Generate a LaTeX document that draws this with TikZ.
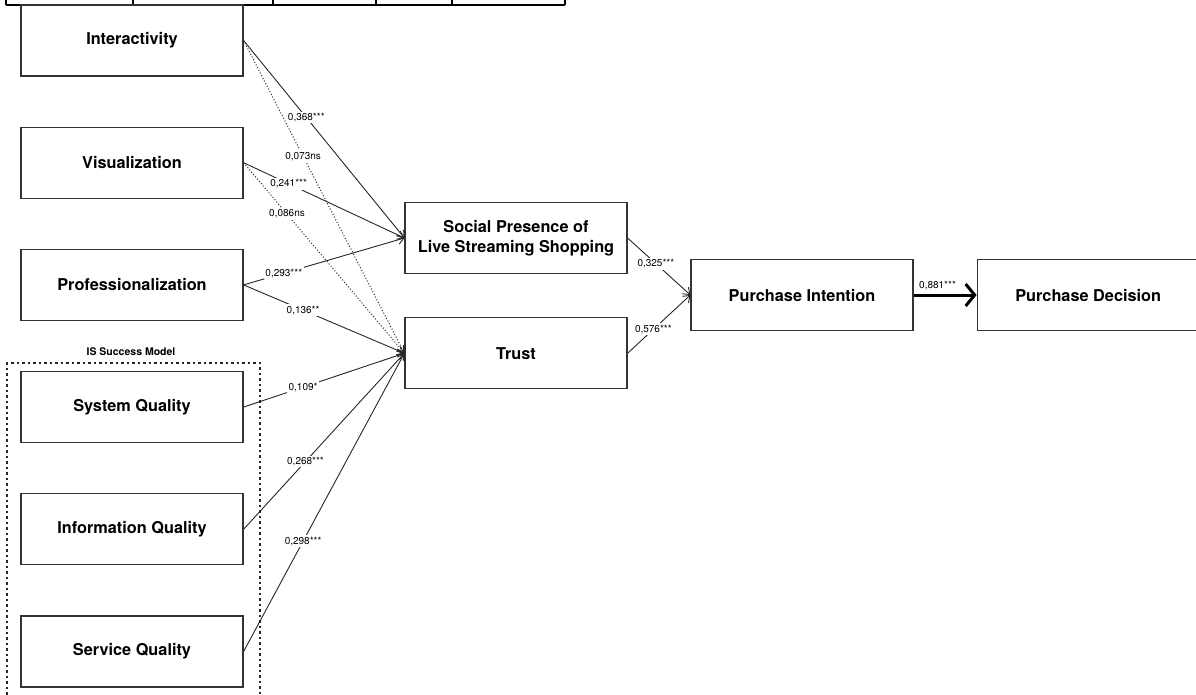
\documentclass[tikz,border=0pt]{standalone}
\usepackage{fontspec}
\setmainfont{TeX Gyre Heros}
\usepackage{tikz}
\usetikzlibrary{arrows.meta,positioning}

\begin{document}
\begin{tikzpicture}[
node distance=50pt,
construct/.style={draw=black!80, line width=1.2pt, minimum width=222pt, minimum height=71pt, inner sep=0pt, align=center, font=\bfseries\fontsize{16.3}{20}\selectfont},
link/.style={draw=black!85, line width=0.9pt, -{Straight Barb[length=6pt,width=9pt]}},
nslink/.style={link, line width=1pt, dotted},
bigarrow/.style={draw=black, line width=3pt, -{Straight Barb[length=9pt,width=22pt]}},
coef/.style={fill=white, inner sep=1.5pt, font=\fontsize{10}{11}\selectfont},
ismodel/.style={draw=black!85, line width=2pt, dash pattern=on 2.5pt off 3pt}
]
\useasboundingbox (0pt,0pt) rectangle (1196pt,-694pt);
\foreach \tx in {6,133,273,376,452,565}
  \draw[line width=2pt] (\tx pt,0pt) -- (\tx pt,-4.5pt);
\draw[line width=2pt] (6pt,-4.5pt) -- (565pt,-4.5pt);

\node[construct] (inter) at (132pt,-40.5pt) {Interactivity};
\node[construct, below=of inter] (visual) {Visualization};
\node[construct, below=of visual] (prof) {Professionalization};
\node[construct, below=of prof] (sysq) {System Quality};
\node[construct, below=of sysq] (infoq) {Information Quality};
\node[construct, below=of infoq] (servq) {Service Quality};

\node[construct] (social) at (516pt,-238pt) {Social Presence of\\Live Streaming Shopping};
\node[construct, below=43pt of social] (trust) {Trust};
\node[construct] (intent) at (802pt,-295pt) {Purchase Intention};
\node[construct, right=63pt of intent] (decision) {Purchase Decision};

\draw[ismodel] (7pt,-700pt) |- (260pt,-363pt) -- (260pt,-700pt);
\node[font=\bfseries\fontsize{10.5}{12}\selectfont] (islabel) at (131pt,-352pt) {IS Success Model};

\draw[link] (inter.east) -- node[coef, pos=0.39] {0,368***} (social.west);
\draw[nslink] (inter.east) -- node[coef, pos=0.37] {0,073ns} (trust.west);
\draw[link] (visual.east) -- node[coef, pos=0.28] {0,241***} (social.west);
\draw[nslink] (visual.east) -- node[coef, pos=0.27] {0,086ns} (trust.west);
\draw[link] (prof.east) -- node[coef, pos=0.25] {0,293***} (social.west);
\draw[link] (prof.east) -- node[coef, pos=0.37] {0,136**} (trust.west);
\draw[link] (sysq.east) -- node[coef, pos=0.37] {0,109*} (trust.west);
\draw[link] (infoq.east) -- node[coef, pos=0.385] {0,268***} (trust.west);
\draw[link] (servq.east) -- node[coef, pos=0.37] {0,298***} (trust.west);

\draw[link] (social.east) -- node[coef, pos=0.45] {0,325***} (intent.west);
\draw[link] (trust.east) -- node[coef, pos=0.41] {0,576***} (intent.west);
\draw[bigarrow] (intent.east) -- node[coef, above=2pt, pos=0.38, fill=none] {0,881***} (decision.west);
\end{tikzpicture}
\end{document}
